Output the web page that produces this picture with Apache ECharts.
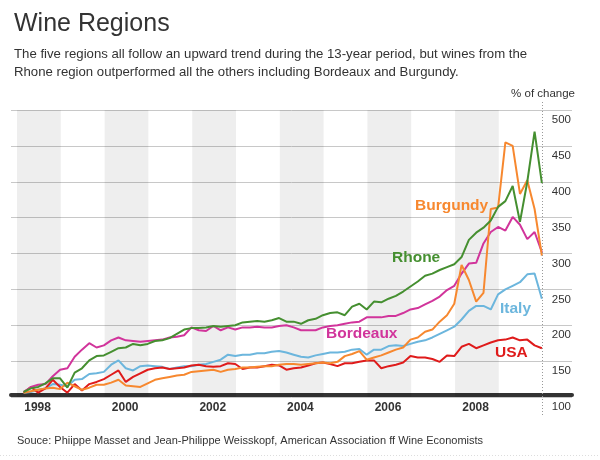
<!DOCTYPE html>
<html><head><meta charset="utf-8">
<script src="https://cdn.jsdelivr.net/npm/echarts@6/dist/echarts.min.js"></script>
<style>html,body{margin:0;padding:0;background:#fff}#c{width:600px;height:460px}</style>
</head><body><div id="c"></div>
<script>
// ---- data (bimonthly readings, % of change, base 100) ----
const startYear = 1998.15;   // decimal year of the first reading
const stepYears = 1 / 6;     // one reading every two months
const yearLabels = ['1998', '2000', '2002', '2004', '2006', '2008'];
const shadedYears = [1998, 2000, 2002, 2004, 2006, 2008];
const yTickValues = [100, 150, 200, 250, 300, 350, 400, 450, 500];

const rhone = [107,112,114,119,126,126,113,134,140,151,
  157,158,163,168,169,174,172,174,178,179,
  182,188,194,196,196,197,199,198,199,200,
  204,205,206,205,207,210,205,205,202,207,
  209,214,217,218,214,226,230,222,233,232,
  237,241,247,254,261,269,272,277,281,285,
  295,319,329,336,346,365,373,394,344,400,
  470,398];
const bordeaux = [107,114,117,118,129,138,140,156,166,175,
  169,172,179,183,179,178,177,178,179,180,
  183,184,186,197,193,192,199,193,197,194,
  197,197,198,197,197,199,200,197,193,193,
  193,197,199,200,202,204,205,211,211,211,
  213,213,217,222,224,229,234,240,249,255,
  272,286,287,314,330,337,332,351,340,320,
  330,302];
const italy = [106,107,110,112,118,117,115,124,125,132,
  133,135,145,151,140,137,143,144,143,142,
  139,141,143,143,145,146,149,152,159,157,
  159,159,161,161,163,164,162,159,156,155,
  158,160,162,162,163,166,167,159,166,166,
  171,172,171,174,177,179,183,188,193,198,
  208,220,227,227,222,243,250,255,260,271,
  272,237];
const usa = [106,114,106,112,124,114,106,118,109,118,
  121,125,131,137,121,128,133,138,140,141,
  139,140,141,144,145,143,142,143,147,146,
  139,141,141,143,145,144,138,140,141,144,
  147,148,146,143,147,147,149,151,151,140,
  143,145,148,157,155,155,153,149,158,157,
  170,174,168,172,176,179,180,183,179,180,
  172,168];
const burgundy = [106,108,110,112,113,111,120,115,110,113,
  117,117,120,124,116,115,114,119,124,126,
  128,130,131,135,136,137,138,135,138,139,
  141,141,142,143,143,145,146,146,145,146,
  147,148,147,149,157,160,164,152,155,158,
  162,166,169,180,183,191,194,205,214,230,
  284,263,233,245,362,364,455,450,383,402,
  362,297];

const seriesNames = ['Rhone', 'Bordeaux', 'Italy', 'USA', 'Burgundy'];
const seriesValues = [rhone, bordeaux, italy, usa, burgundy];
const seriesColors = ['#458f30', '#d1349b', '#6cb6dd', '#df1b1b', '#f7882f'];

const dates = rhone.map((_, i) => startYear + i * stepYears);
const FONT = '"Liberation Sans", Arial, Helvetica, sans-serif';

const chart = echarts.init(document.getElementById('c'), null, { renderer: 'canvas' });

const lineSeries = seriesNames.map((name, k) => ({
  name, type: 'line', z: 3, symbol: 'none', smooth: false,
  lineStyle: { color: seriesColors[k], width: 2 },
  data: seriesValues[k].map((v, i) => [dates[i], v])
}));

const drawOrder = [2, 3, 1, 4, 0];

chart.setOption({
  animation: false,
  backgroundColor: '#fff',
  grid: { left: 11, right: 28, top: 110, bottom: 63 },
  xAxis: {
    type: 'value', min: 1997.863, max: 2010.671, offset: -2,
    axisLine: { show: true, onZero: false, lineStyle: { color: '#333', width: 4 } },
    axisTick: { show: false }, splitLine: { show: false },
    axisLabel: {
      customValues: yearLabels.map(y => +y + 0.47),
      formatter: v => String(Math.floor(v)),
      fontFamily: FONT, fontWeight: 'bold', fontSize: 12, color: '#333', margin: 7
    }
  },
  yAxis: {
    type: 'value', position: 'right', min: 100, max: 500, interval: 50,
    axisLine: { show: false }, axisTick: { show: false },
    splitLine: { lineStyle: { color: '#c8c8c8', width: 1 } },
    axisLabel: {
      inside: true, margin: 1, fontFamily: FONT, fontSize: 11.5, color: '#333',
      verticalAlign: 'top', padding: [4, 0, 0, 0]
    }
  },
  series: [{
    type: 'line', data: [], z: 1, silent: true,
    markArea: {
      silent: true, itemStyle: { color: 'rgba(0,0,0,0.068)' },
      data: shadedYears.map(y => [{ xAxis: y }, { xAxis: y + 1 }])
    }
  }].concat(drawOrder.map(k => lineSeries[k]))
});

const lastX = chart.convertToPixel({ xAxisIndex: 0, yAxisIndex: 0 }, [dates[dates.length - 1], 100])[0];
const lbl = (text, x, y, color) => ({
  type: 'text', x, y, silent: true, z: 20,
  style: { text, fill: color, font: 'bold 15.5px ' + FONT, textVerticalAlign: 'middle' }
});

chart.setOption({
  graphic: [
    { type: 'text', left: 14, top: 12, style: { text: 'Wine Regions', fill: '#333', font: '25px ' + FONT } },
    { type: 'text', left: 14, top: 48, style: { text: 'The five regions all follow an upward trend during the 13-year period, but wines from the', fill: '#333', font: '13.2px ' + FONT } },
    { type: 'text', left: 14, top: 66, style: { text: 'Rhone region outperformed all the others including Bordeaux and Burgundy.', fill: '#333', font: '13.2px ' + FONT } },
    { type: 'text', x: 575, y: 94, style: { text: '% of change', fill: '#333', font: '11.5px ' + FONT, textAlign: 'right', textVerticalAlign: 'middle' } },
    { type: 'text', left: 17, top: 435, style: { text: 'Souce: Phiippe Masset and Jean-Philippe Weisskopf, American Association ff Wine Economists', fill: '#333', font: '11px ' + FONT } },
    { type: 'line', silent: true, z: 10, shape: { x1: Math.round(lastX) + 0.5, y1: 102, x2: Math.round(lastX) + 0.5, y2: 416 },
      style: { stroke: '#999', lineWidth: 1, lineDash: [1, 2] } },
    { type: 'line', silent: true, shape: { x1: 0, y1: 455.5, x2: 600, y2: 455.5 },
      style: { stroke: '#ddd', lineWidth: 1, lineDash: [1, 2] } },
    lbl('Burgundy', 415, 206, seriesColors[4]),
    lbl('Rhone', 392, 258, seriesColors[0]),
    lbl('Bordeaux', 326, 334, seriesColors[1]),
    lbl('Italy', 500, 309, seriesColors[2]),
    lbl('USA', 495, 353, seriesColors[3])
  ]
});
</script>
</body></html>
